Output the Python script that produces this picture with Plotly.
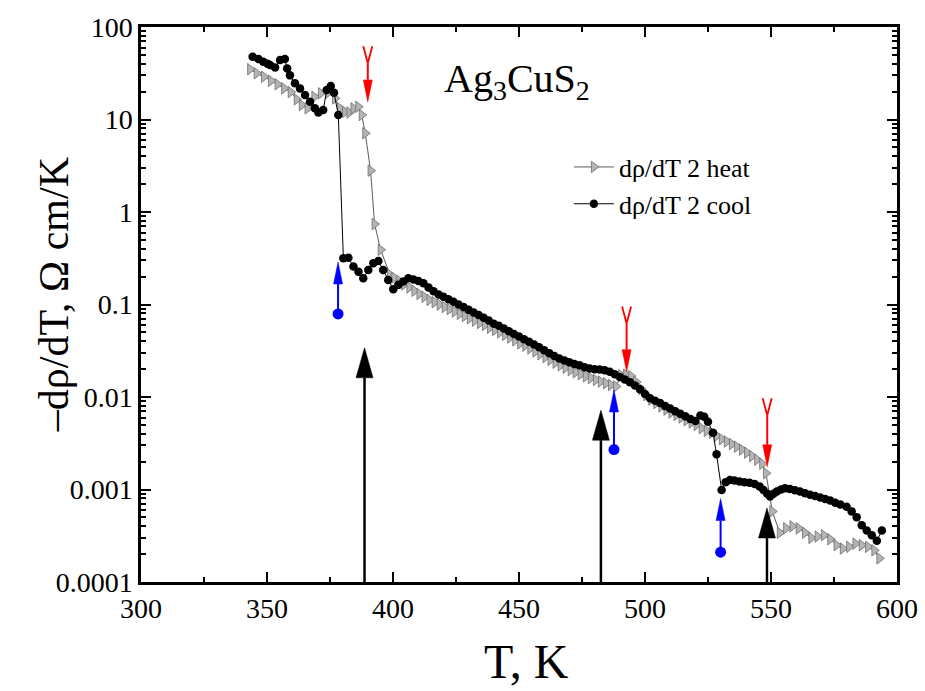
import plotly.graph_objects as go

# ---- measured series: temperature (K) and -drho/dT (Ohm cm / K) ----
heat_T = [343.3, 345.9, 348.8, 351.6, 354.2, 356.8, 359.4, 361.8, 363.8, 366.1,
          368.8, 371.4, 374.3, 377.0, 379.0, 381.0, 382.7, 384.3, 386.2, 387.6,
          389.0, 391.1, 392.7, 395.1, 398.8, 400.5, 402.5, 404.5, 406.5, 408.5,
          410.5, 412.5, 414.5, 416.5, 418.5, 420.5, 422.5, 424.5, 426.5, 428.5,
          430.5, 432.5, 434.5, 436.5, 438.5, 440.5, 442.5, 444.5, 446.5, 448.5,
          450.5, 452.5, 454.5, 456.5, 458.5, 460.5, 462.5, 464.5, 466.5, 468.5,
          470.5, 472.5, 474.5, 476.5, 478.5, 480.5, 482.5, 484.5, 486.5, 488.5,
          490.5, 492.5, 494.5, 496.5, 498.5, 500.5, 502.5, 504.5, 506.5, 508.5,
          510.5, 512.5, 514.5, 516.5, 518.5, 520.5, 522.5, 524.5, 526.5, 528.5,
          530.5, 532.5, 534.5, 536.5, 538.5, 540.5, 542.5, 544.5, 546.5, 548.0,
          550.5, 553.5, 556.0, 558.5, 561.0, 563.5, 566.0, 568.5, 571.0, 573.5,
          576.0, 578.5, 581.0, 583.5, 586.0, 588.5, 591.0, 593.0]
heat_val = [35.0, 31.6, 29.0, 26.2, 24.0, 21.7, 19.8, 16.5, 14.3, 13.2,
            17.6, 19.2, 19.5, 16.9, 13.2, 12.1, 11.9, 13.2, 13.7, 11.2,
            7.1, 2.8, 0.74, 0.39, 0.21, 0.195, 0.18, 0.165, 0.153, 0.141,
            0.13, 0.121, 0.112, 0.106, 0.1, 0.094, 0.089, 0.084, 0.079, 0.075,
            0.071, 0.067, 0.063, 0.06, 0.056, 0.053, 0.05, 0.047, 0.044, 0.041,
            0.038, 0.036, 0.0335, 0.031, 0.029, 0.027, 0.0252, 0.0235, 0.022, 0.0207,
            0.0195, 0.0185, 0.0176, 0.0167, 0.016, 0.0153, 0.0147, 0.0141, 0.0135, 0.013,
            0.0172, 0.0174, 0.0168, 0.0145, 0.0122, 0.0105, 0.0094, 0.0086, 0.0079, 0.0073,
            0.0068, 0.0064, 0.006, 0.0056, 0.0053, 0.005, 0.0046, 0.0043, 0.0041, 0.0038,
            0.0035, 0.0033, 0.0031, 0.0029, 0.0027, 0.0025, 0.0023, 0.0021, 0.0019, 0.0015,
            0.00058, 0.00034, 0.00038, 0.0004, 0.00038, 0.00034, 0.0003, 0.00031, 0.00032, 0.00029,
            0.00025, 0.00023, 0.00024, 0.00026, 0.00025, 0.00024, 0.00022, 0.00018]

cool_T = [344.3, 346.6, 348.5, 350.2, 351.2, 353.2, 355.2, 357.1, 358.0, 359.1,
          361.1, 363.1, 365.1, 367.1, 369.0, 370.4, 372.3, 373.7, 375.3, 376.6,
          378.3, 380.3, 382.3, 384.3, 386.3, 388.2, 390.2, 392.2, 394.2, 396.1,
          398.1, 400.1, 402.1, 404.1, 406.1, 408.1, 410.1, 412.1, 414.1, 416.1,
          418.1, 420.0, 422.0, 424.0, 426.0, 428.0, 430.0, 432.0, 434.0, 436.0,
          438.0, 440.0, 442.0, 444.0, 446.0, 448.0, 450.0, 452.0, 454.0, 456.0,
          458.0, 460.0, 462.0, 464.0, 466.0, 468.0, 470.0, 472.0, 474.0, 476.0,
          478.0, 480.0, 482.0, 484.0, 486.0, 488.0, 490.0, 492.0, 494.0, 496.0,
          498.0, 500.0, 502.0, 504.0, 506.0, 508.0, 510.0, 512.0, 514.0, 516.0,
          518.0, 520.0, 522.0, 523.5, 525.0, 527.0, 528.4, 530.4, 532.0, 533.7,
          535.5, 537.5, 539.5, 541.5, 543.5, 545.5, 547.0, 548.5, 549.6, 551.0,
          552.3, 554.0, 555.6, 557.5, 559.5, 561.5, 563.5, 565.5, 567.5, 569.5,
          571.5, 573.5, 575.5, 577.5, 580.0, 582.0, 584.0, 586.0, 588.0, 590.0,
          592.0, 594.0]
cool_val = [47.7, 45.0, 42.0, 40.0, 38.8, 36.6, 44.0, 45.0, 35.7, 30.0,
            24.6, 21.7, 18.4, 15.6, 13.2, 11.9, 12.7, 20.8, 23.0, 19.5,
            11.2, 0.316, 0.32, 0.257, 0.226, 0.192, 0.236, 0.279, 0.295, 0.236,
            0.184, 0.146, 0.163, 0.177, 0.192, 0.186, 0.179, 0.17, 0.153, 0.139,
            0.128, 0.121, 0.114, 0.107, 0.1, 0.094, 0.088, 0.082, 0.077, 0.072,
            0.067, 0.062, 0.059, 0.055, 0.0515, 0.048, 0.045, 0.042, 0.0396, 0.037,
            0.0345, 0.032, 0.0298, 0.0278, 0.026, 0.0248, 0.0238, 0.0228, 0.022, 0.021,
            0.0203, 0.02, 0.0198, 0.0195, 0.0187, 0.0176, 0.0165, 0.0155, 0.0144, 0.0133,
            0.0121, 0.0108, 0.0097, 0.0091, 0.0086, 0.008, 0.0075, 0.007, 0.0066, 0.0062,
            0.0058, 0.0055, 0.0063, 0.0061, 0.0054, 0.0041, 0.0024, 0.00099, 0.0012, 0.00127,
            0.00125, 0.00122, 0.0012, 0.00118, 0.00115, 0.00108, 0.00099, 0.0009, 0.00084, 0.0009,
            0.00095, 0.001, 0.00103, 0.00101, 0.00098, 0.00095, 0.00091, 0.00088, 0.00085, 0.00082,
            0.00079, 0.00076, 0.00072, 0.00069, 0.00065, 0.00058, 0.0005, 0.00041, 0.00036, 0.00032,
            0.00028, 0.00036]

# ---- transition markers ----
black_arrow_T = [388.7, 482.5, 548.4]
black_arrow_tip = [0.034, 0.0072, 0.00063]
red_arrow_T = [390.0, 492.7, 548.5]
red_arrow_top = [62.0, 0.095, 0.0097]
red_arrow_tip = [15.5, 0.0188, 0.00176]
blue_arrow_T = [378.2, 487.7, 530.0]
blue_arrow_dot = [0.079, 0.0027, 0.00021]
blue_arrow_tip = [0.288, 0.0119, 0.0008]

x_ticks = [300, 350, 400, 450, 500, 550, 600]
y_ticks = [0.0001, 0.001, 0.01, 0.1, 1, 10, 100]
y_ticklabels = ["0.0001", "0.001", "0.01", "0.1", "1", "10", "100"]

# ---- page geometry ----
W, H = 925, 691
ML, MR, MT, MB = 141, 28, 27, 109
X_RANGE = (300, 600)
Y_DECADES = (-4, 2)
px_per_K = (W - ML - MR) / (X_RANGE[1] - X_RANGE[0])
px_per_dec = (H - MT - MB) / (Y_DECADES[1] - Y_DECADES[0])


def dx(px):
    return px / px_per_K


def shift(v, px):
    """Move a value on the log axis by px pixels (positive = upward)."""
    return v * 10 ** (px / px_per_dec)


FONT = "Liberation Serif, Times New Roman, serif"
fig = go.Figure()

fig.add_trace(go.Scatter(
    x=heat_T, y=heat_val, mode="lines+markers", name="d\u03c1/dT 2 heat",
    line=dict(color="#5a5a5a", width=1),
    marker=dict(symbol="triangle-right", size=10, color="#b4b4b4",
                line=dict(color="#6e6e6e", width=0.8)),
))
fig.add_trace(go.Scatter(
    x=cool_T, y=cool_val, mode="lines+markers", name="d\u03c1/dT 2 cool",
    line=dict(color="black", width=1),
    marker=dict(symbol="circle", size=8.5, color="black"),
))


def head(x, tip, length_px, width_px, color, up=True):
    base = shift(tip, -length_px if up else length_px)
    hw = dx(width_px / 2)
    fig.add_trace(go.Scatter(
        x=[x - hw, x, x + hw, x - hw], y=[base, tip, base, base],
        mode="lines", fill="toself", fillcolor=color,
        line=dict(color=color, width=0.5), showlegend=False, hoverinfo="skip"))
    return base


def seg(xs, ys, color, width):
    fig.add_trace(go.Scatter(x=xs, y=ys, mode="lines",
                             line=dict(color=color, width=width),
                             showlegend=False, hoverinfo="skip"))


# black arrows rising from the T axis
for t, tip in zip(black_arrow_T, black_arrow_tip):
    base = head(t, tip, 30, 17, "black", up=True)
    seg([t, t], [10 ** Y_DECADES[0], base], "black", 2.5)

# red arrows with forked tails
for t, top, tip in zip(red_arrow_T, red_arrow_top, red_arrow_tip):
    base = head(t, tip, 22, 9, "red", up=False)
    fork = shift(top, -17)
    seg([t - dx(4.5), t, t + dx(4.5)], [top, fork, top], "red", 1.8)
    seg([t, t], [fork, base], "red", 2)

# blue arrows starting from a dot
for t, dot, tip in zip(blue_arrow_T, blue_arrow_dot, blue_arrow_tip):
    base = head(t, tip, 22, 9, "blue", up=True)
    seg([t, t], [dot, base], "blue", 2)
    fig.add_trace(go.Scatter(x=[t], y=[dot], mode="markers",
                             marker=dict(color="blue", size=11),
                             showlegend=False, hoverinfo="skip"))

axis_common = dict(
    showline=True, linecolor="black", linewidth=2.5, mirror="ticks",
    ticks="inside", ticklen=10, tickwidth=2, tickcolor="black",
    showgrid=False, zeroline=False, automargin=False,
    tickfont=dict(family=FONT, size=28, color="black"),
)

fig.update_layout(
    width=W, height=H,
    margin=dict(l=ML, r=MR, t=MT, b=MB),
    paper_bgcolor="white", plot_bgcolor="white",
    font=dict(family=FONT, color="black"),
    xaxis=dict(range=list(X_RANGE), tickvals=x_ticks,
               minor=dict(dtick=25, ticks="inside", ticklen=5, tickwidth=1.5,
                          tickcolor="black", showgrid=False),
               **axis_common),
    yaxis=dict(type="log", range=list(Y_DECADES), tickvals=y_ticks,
               ticktext=y_ticklabels,
               minor=dict(dtick="D1", ticks="inside", ticklen=5, tickwidth=1.5,
                          tickcolor="black", showgrid=False),
               **axis_common),
    legend=dict(x=0.566, y=0.79, xanchor="left", yanchor="top",
                bgcolor="rgba(0,0,0,0)", borderwidth=0,
                font=dict(family=FONT, size=26, color="black"),
                tracegroupgap=0, itemwidth=40),
    showlegend=True,
    annotations=[
        dict(text="Ag<sub>3</sub>CuS<sub>2</sub>", xref="paper", yref="paper",
             x=0.497, y=0.952, showarrow=False,
             font=dict(family=FONT, size=40, color="black")),
        dict(text="T, K", xref="paper", yref="paper", x=0.51, y=-0.144,
             yanchor="middle", showarrow=False,
             font=dict(family=FONT, size=48, color="black")),
        dict(text="\u2013d\u03c1/dT, \u03a9 cm/K", xref="paper", yref="paper",
             x=-0.148, y=0.517, textangle=-90, showarrow=False,
             font=dict(family=FONT, size=42, color="black")),
    ],
)

fig.write_html("out.html")
